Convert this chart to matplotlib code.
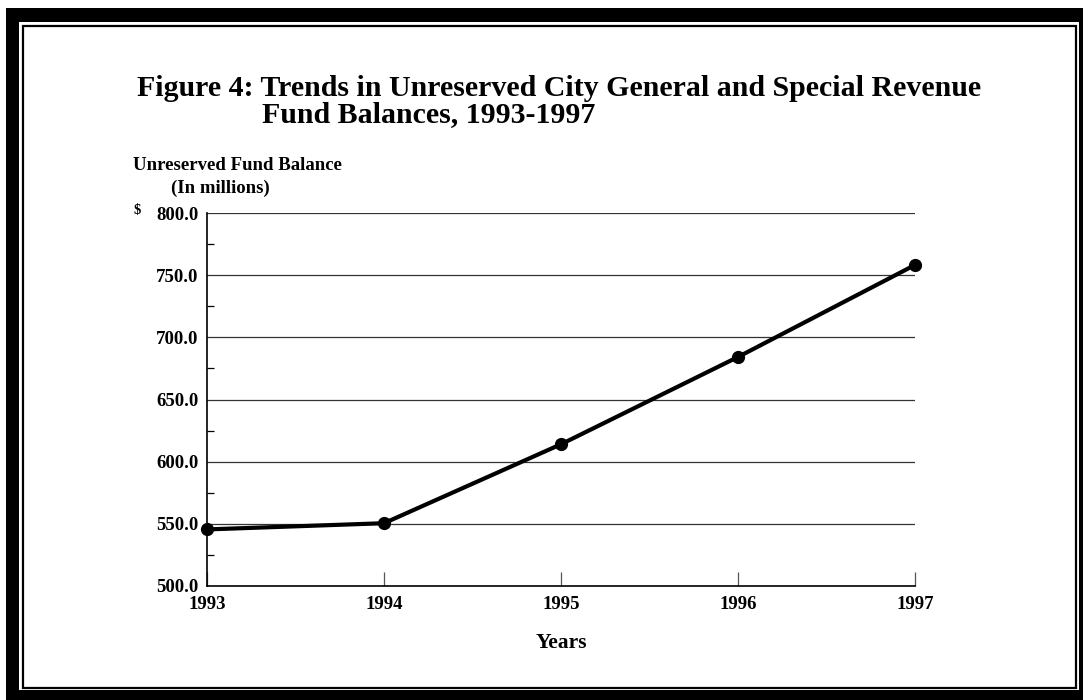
import matplotlib
matplotlib.use("Agg")
from matplotlib import pyplot as plt
from matplotlib.patches import Rectangle
from matplotlib.ticker import MultipleLocator

# data
years = [1993, 1994, 1995, 1996, 1997]
balance = [545.5, 550.5, 614.0, 684.2, 758.2]
y_ticks = [500, 550, 600, 650, 700, 750, 800]
y_labels = ["{:.1f}".format(v) for v in y_ticks]

W, H = 1083, 700
plt.rcParams['font.family'] = ['Liberation Serif', 'DejaVu Serif']
plt.rcParams['font.weight'] = 'bold'

fig = plt.figure(figsize=(W / 100, H / 100), dpi=100)


def fx(px):
    return px / W


def fy(py):
    return 1 - py / H


# frame: thick black band with thin inner line (drawn behind the axes)
fig.patches.append(Rectangle((fx(6), fy(700)), fx(1083) - fx(6), fy(8) - fy(700),
                             transform=fig.transFigure, facecolor='black', edgecolor='none', zorder=-3))
fig.patches.append(Rectangle((fx(19), fy(690)), fx(1079) - fx(19), fy(22) - fy(690),
                             transform=fig.transFigure, facecolor='white', edgecolor='none', zorder=-2))
fig.patches.append(Rectangle((fx(22.5), fy(687.5)), fx(1076) - fx(22.5), fy(25.5) - fy(687.5),
                             transform=fig.transFigure, facecolor='white', edgecolor='black',
                             linewidth=1.6, zorder=-1))

ax = fig.add_axes([fx(207), fy(586), fx(915) - fx(207), fy(213) - fy(586)])
ax.set_facecolor('none')

# gridlines
for v in y_ticks[1:]:
    ax.axhline(v, color='#333333', linewidth=0.9, zorder=1)

ax.plot(years, balance, color='black', linewidth=3.0, marker='o', markersize=8.5, zorder=3,
        clip_on=False)

ax.set_xlim(1993, 1997)
ax.set_ylim(500, 800)
ax.set_xticks(years)
ax.set_xticklabels([str(y) for y in years], fontsize=13.5, fontweight='bold')
ax.set_yticks(y_ticks)
ax.set_yticklabels(y_labels, fontsize=13.5, fontweight='bold')
ax.yaxis.set_minor_locator(MultipleLocator(25))
ax.tick_params(axis='y', which='major', length=0, pad=6)
ax.tick_params(axis='y', which='minor', direction='in', length=5, width=0.9)
ax.tick_params(axis='x', which='major', direction='in', length=10, width=0.9, pad=7, color='#555555')

for s in ['top', 'right']:
    ax.spines[s].set_visible(False)
ax.spines['left'].set_linewidth(1.2)
ax.spines['bottom'].set_linewidth(1.2)

# texts
fig.text(fx(137), fy(88), "Figure 4: Trends in Unreserved City General and Special Revenue",
         fontsize=21.5, fontweight='bold', ha='left', va='center')
fig.text(fx(262), fy(115), "Fund Balances, 1993-1997",
         fontsize=21.5, fontweight='bold', ha='left', va='center')
fig.text(fx(133), fy(165), "Unreserved Fund Balance", fontsize=13.5, fontweight='bold',
         ha='left', va='center')
fig.text(fx(171), fy(188), "(In millions)", fontsize=13.5, fontweight='bold',
         ha='left', va='center')
fig.text(fx(133), fy(211), "$", fontsize=10.5, fontweight='bold', ha='left', va='center')
fig.text(fx(561), fy(643), "Years", fontsize=15.5, fontweight='bold', ha='center', va='center')

plt.savefig("out.png", dpi=100)
